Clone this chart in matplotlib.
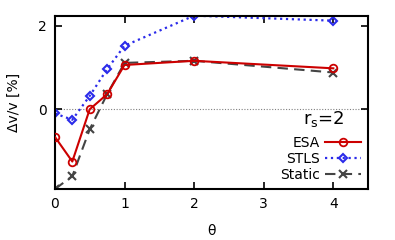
import numpy as np
import matplotlib.pyplot as plt

theta  = [0, 0.25, 0.5, 0.75, 1, 2, 4]
esa    = [-0.66, -1.25, 0.0, 0.36, 1.06, 1.16, 0.98]
stls   = [-0.10, -0.25, 0.32, 0.96, 1.52, 2.24, 2.12]
static = [-1.91, -1.60, -0.48, 0.36, 1.11, 1.16, 0.88]

plt.rcParams.update({
  'font.family': 'DejaVu Sans',
  'font.size': 10,
})

fig, ax = plt.subplots(figsize=(3.95, 2.4), dpi=100)
fig.subplots_adjust(left=0.139, right=0.932, top=0.933, bottom=0.212)

ax.axhline(0, color='gray', linestyle=(0, (1, 1.5)), linewidth=0.8, zorder=1)
ax.plot(theta, esa, color='#cc0000', linewidth=1.5, marker='o', markersize=5.5,
        markerfacecolor='none', markeredgewidth=1.3, label='ESA', zorder=3)
ax.plot(theta, stls, color='#2b2bea', linewidth=1.6, linestyle=':', marker='D',
        markersize=4, markerfacecolor='none', markeredgewidth=1.5, label='STLS', zorder=2)
ax.plot(theta, static, color='#444444', linewidth=1.5, linestyle=(0, (5, 3)),
        marker='x', markersize=6, markeredgewidth=1.5, label='Static', zorder=2.5)

ax.set_xlim(0, 4.5)
ax.set_ylim(-1.91, 2.23)
ax.set_xticks([0, 1, 2, 3, 4])
ax.set_yticks([0, 2])
ax.tick_params(direction='in', top=True, right=True, length=5, width=1.2, pad=6)
for sp in ax.spines.values():
  sp.set_linewidth(1.5)
ax.set_xlabel('θ', labelpad=9)
ax.set_ylabel('Δv/v [%]', labelpad=12)

ax.text(0.925, 0.35, r'r$_\mathrm{s}$=2', transform=ax.transAxes, fontsize=13,
        ha='right', va='bottom')
ax.legend(loc='lower right', frameon=False, markerfirst=False, handlelength=2.6,
          handletextpad=0.4, labelspacing=0.15, borderaxespad=0.1, fontsize=10)

plt.savefig('out.png', dpi=100)
